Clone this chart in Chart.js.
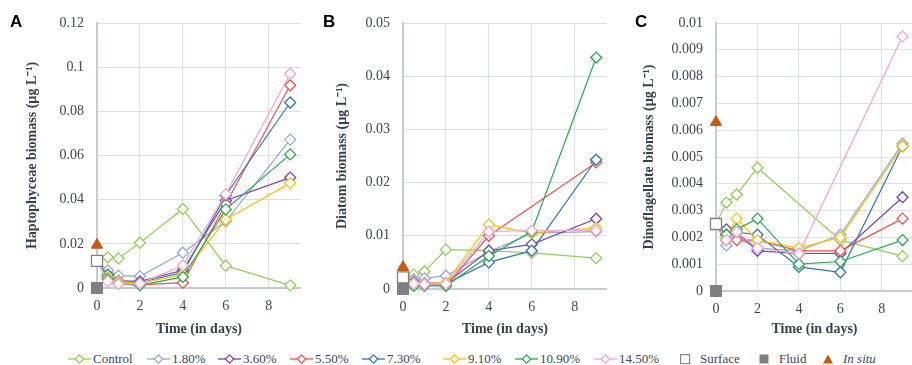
<!DOCTYPE html>
<html><head><meta charset="utf-8">
<script src="https://cdn.jsdelivr.net/npm/chart.js@4.4.0/dist/chart.umd.min.js"></script>
<style>
html,body{margin:0;padding:0;background:#fff;width:912px;height:365px;overflow:hidden;position:relative;font-family:"Liberation Serif",serif;}
.panel{position:absolute;top:0;height:340px;}
.letter{position:absolute;top:12px;font:bold 17px "Liberation Sans",Arial,sans-serif;color:#000;}
.lg{position:absolute;top:350px;height:18px;display:flex;align-items:center;font-size:13px;color:#404553;white-space:nowrap;}
.lg svg{display:block;}
</style></head><body>
<div class="panel" style="left:0;width:310px"><canvas id="cA"></canvas></div>
<div class="panel" style="left:312px;width:304px"><canvas id="cB"></canvas></div>
<div class="panel" style="left:616px;width:306px"><canvas id="cC"></canvas></div>
<div class="letter" style="left:10px">A</div>
<div class="letter" style="left:323px">B</div>
<div class="letter" style="left:635px">C</div>
<div id="legend"></div>
<script>
// ---------- data ----------
const times = [0.5, 1, 2, 4, 6, 9];
const seriesNames = ['Control','1.80%','3.60%','5.50%','7.30%','9.10%','10.90%','14.50%'];
const markerNames = ['Surface','Fluid','In situ'];
const xTicks = [0, 2, 4, 6, 8];

// Panel A: Haptophyceae
const haptoControl = [0.0139, 0.0134, 0.0205, 0.0358, 0.0101, 0.0012];
const hapto180  = [0.0080, 0.0056, 0.0053, 0.0160, 0.0302, 0.0672];
const hapto360  = [0.0052, 0.0032, 0.0030, 0.0080, 0.0396, 0.0500];
const hapto550  = [0.0050, 0.0022, 0.0014, 0.0024, 0.0380, 0.0918];
const hapto730  = [0.0060, 0.0030, 0.0025, 0.0070, 0.0420, 0.0840];
const hapto910  = [0.0048, 0.0030, 0.0020, 0.0062, 0.0310, 0.0475];
const hapto1090 = [0.0040, 0.0020, 0.0012, 0.0050, 0.0356, 0.0605];
const hapto1450 = [0.0030, 0.0018, 0.0020, 0.0102, 0.0425, 0.0970];
const haptoRef = [0.0123, 0, 0.0195]; // Surface, Fluid, In situ
const haptoTicks = [0, 0.02, 0.04, 0.06, 0.08, 0.1, 0.12];

// Panel B: Diatom
const diatomControl = [0.0027, 0.0033, 0.0074, 0.0072, 0.0068, 0.0058];
const diatom180  = [0.0018, 0.0020, 0.0025, 0.0070, 0.0105, 0.0108];
const diatom360  = [0.0013, 0.0011, 0.0011, 0.0072, 0.0084, 0.0132];
const diatom550  = [0.0010, 0.0009, 0.0006, 0.0100, null, 0.0238];
const diatom730  = [0.0012, 0.0010, 0.0010, 0.0050, 0.0072, 0.0243];
const diatom910  = [0.0011, 0.0010, 0.0012, 0.0121, 0.0105, 0.0115];
const diatom1090 = [0.0006, 0.0006, 0.0006, 0.0062, 0.0108, 0.0435];
const diatom1450 = [0.0010, 0.0009, 0.0010, 0.0108, 0.0110, 0.0110];
const diatomRef = [0.0022, 0, 0.0041];
const diatomTicks = [0, 0.01, 0.02, 0.03, 0.04, 0.05];

// Panel C: Dinoflagellate
const dinoControl = [0.0033, 0.0036, 0.0046, null, 0.0019, 0.0013];
const dino180  = [0.0017, 0.0020, 0.0016, 0.0015, 0.0021, 0.0055];
const dino360  = [0.0023, 0.0022, 0.0015, 0.0014, 0.0014, 0.0035];
const dino550  = [0.0019, 0.0019, 0.0019, 0.0015, 0.0015, 0.0027];
const dino730  = [0.0021, 0.0022, 0.0021, 0.0009, 0.0007, 0.0054];
const dino910  = [0.0020, 0.0027, 0.0019, 0.0016, 0.0020, 0.0054];
const dino1090 = [0.0021, 0.0023, 0.0027, 0.0010, 0.0011, 0.0019];
const dino1450 = [0.0019, 0.0022, 0.0016, 0.0014, null, 0.0095];
const dinoRef = [0.0025, 0, 0.0063];
const dinoTicks = [0, 0.001, 0.002, 0.003, 0.004, 0.005, 0.006, 0.007, 0.008, 0.009, 0.01];

// ---------- style ----------
const seriesColors = ['#92D050','#8EA9DB','#7A3FB0','#FF4B4B','#2E75B6','#FFC000','#22AD4F','#F4A3CF'];
const surfaceColor = '#7F7F7F', inSituColor = '#C55A11';
const gridColor = '#DCDFE8', axisColor = '#C6CAD6', tickColor = '#404553', titleColor = '#3A3F50';
const serif = '"Liberation Serif", "Times New Roman", serif';

function buildChart(id, series, ref, yTicks, yTitle, geo) {
  const datasets = series.map((vals, i) => {
    const pts = [{x: 0, y: ref[0]}];
    times.forEach((t, k) => { if (vals[k] !== null) pts.push({x: t, y: vals[k]}); });
    return {
      label: seriesNames[i], data: pts, showLine: true, clip: false,
      borderColor: seriesColors[i], backgroundColor: '#fff',
      pointBorderColor: seriesColors[i], pointBackgroundColor: '#fff',
      borderWidth: 1.2, pointBorderWidth: 1.3, pointStyle: 'rectRot',
      pointRadius: pts.map((p, k) => k === 0 ? 0 : 5.5), pointHoverRadius: 5.5,
      order: 10 - i
    };
  });
  datasets.push({label: markerNames[0], data: [{x: 0, y: ref[0]}], pointStyle: 'rect', pointRadius: 7.8,
    pointBackgroundColor: '#fff', pointBorderColor: surfaceColor, pointBorderWidth: 1.3, clip: false, order: 0});
  datasets.push({label: markerNames[1], data: [{x: 0, y: ref[1]}], pointStyle: 'rect', pointRadius: 7.8,
    pointBackgroundColor: surfaceColor, pointBorderColor: surfaceColor, pointBorderWidth: 1, clip: false, order: 0});
  datasets.push({label: markerNames[2], data: [{x: 0, y: ref[2]}], pointStyle: 'triangle', pointRadius: 6.5,
    pointBackgroundColor: inSituColor, pointBorderColor: inSituColor, pointBorderWidth: 1, clip: false, order: 0});

  return new Chart(document.getElementById(id), {
    type: 'scatter',
    data: {datasets},
    options: {
      responsive: true, maintainAspectRatio: false, animation: false,
      layout: {padding: {top: geo.padTop, right: geo.padRight, left: 0, bottom: 0}},
      plugins: {legend: {display: false}, tooltip: {enabled: false}},
      scales: {
        x: {
          type: 'linear', min: 0, max: 9.5,
          afterBuildTicks: s => { s.ticks = xTicks.map(v => ({value: v})); },
          afterFit: s => { s.height = geo.xHeight; },
          grid: {color: gridColor, drawTicks: false},
          border: {color: axisColor, width: 2},
          ticks: {padding: 10, color: tickColor, font: {family: serif, size: 14}},
          title: {display: true, text: 'Time (in days)', color: titleColor,
            font: {family: serif, size: 14, weight: 'bold'}, padding: {top: 2, bottom: 2}}
        },
        y: {
          type: 'linear', min: 0, max: yTicks[yTicks.length - 1],
          afterBuildTicks: s => { s.ticks = yTicks.map(v => ({value: v})); },
          afterFit: s => { s.width = geo.yWidth; },
          grid: {color: gridColor, drawTicks: false},
          border: {color: axisColor, width: 2},
          ticks: {padding: 13, color: tickColor, font: {family: serif, size: 14},
            callback: v => String(v)},
          title: {display: true, text: yTitle, color: titleColor,
            font: {family: serif, size: 14, weight: 'bold'}, padding: {top: geo.titlePad, bottom: 0}}
        }
      }
    }
  });
}

buildChart('cA', [haptoControl, hapto180, hapto360, hapto550, hapto730, hapto910, hapto1090, hapto1450],
  haptoRef, haptoTicks, 'Haptophyceae biomass (µg L⁻¹)', {padTop: 23, padRight: 4, xHeight: 52, yWidth: 97, titlePad: 24});
buildChart('cB', [diatomControl, diatom180, diatom360, diatom550, diatom730, diatom910, diatom1090, diatom1450],
  diatomRef, diatomTicks, 'Diatom biomass (µg L⁻¹)', {padTop: 23, padRight: 4, xHeight: 51, yWidth: 91, titlePad: 22});
buildChart('cC', [dinoControl, dino180, dino360, dino550, dino730, dino910, dino1090, dino1450],
  dinoRef, dinoTicks, 'Dinoflagellate biomass (µg L⁻¹)', {padTop: 23, padRight: 4, xHeight: 49, yWidth: 100, titlePad: 25});

// ---------- legend ----------
const legendIconX = [68, 147, 218, 290, 362, 443, 515, 594];
const legendMarkerX = [680, 759, 823];
const lg = document.getElementById('legend');
function addItem(left, svg, text, italic) {
  const d = document.createElement('div');
  d.className = 'lg'; d.style.left = left + 'px';
  d.innerHTML = svg;
  const s = document.createElement('span');
  s.textContent = text;
  if (italic) s.style.fontStyle = 'italic';
  d.appendChild(s);
  lg.appendChild(d);
}
seriesNames.forEach((n, i) => {
  const c = seriesColors[i];
  const svg = `<svg width="25" height="12" viewBox="0 0 25 12"><line x1="0" y1="6" x2="23" y2="6" stroke="${c}" stroke-width="1.3"/>` +
    `<polygon points="11.5,1.8 15.7,6 11.5,10.2 7.3,6" fill="#fff" stroke="${c}" stroke-width="1.2"/></svg>`;
  addItem(legendIconX[i], svg, n, false);
});
const mSvgs = [
  `<svg width="20" height="12" viewBox="0 0 20 12"><rect x="0.6" y="1.6" width="9" height="9" fill="#fff" stroke="${surfaceColor}" stroke-width="1.1"/></svg>`,
  `<svg width="20" height="12" viewBox="0 0 20 12"><rect x="0.5" y="1.5" width="9" height="9" fill="${surfaceColor}"/></svg>`,
  `<svg width="20" height="12" viewBox="0 0 20 12"><polygon points="5,1.5 10,10.5 0,10.5" fill="${inSituColor}"/></svg>`
];
markerNames.forEach((n, i) => addItem(legendMarkerX[i], mSvgs[i], n, i === 2));
</script>
</body></html>
